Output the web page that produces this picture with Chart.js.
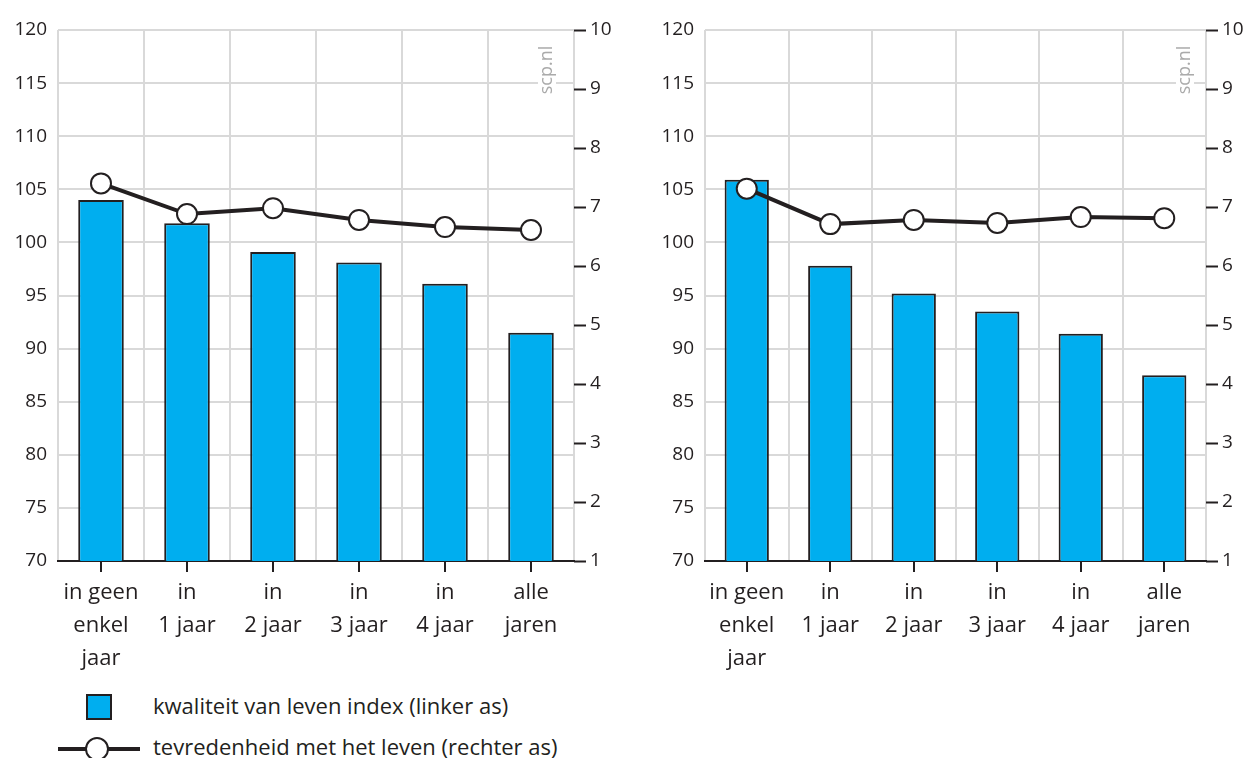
<!DOCTYPE html>
<html>
<head>
<meta charset="utf-8">
<script src="https://cdn.jsdelivr.net/npm/chart.js@4"></script>
<style>
  body { margin: 0; background: #fff; width: 1258px; height: 758px; overflow: hidden; position: relative; font-family: "Open Sans", sans-serif; color: #231f20; }
  .paneel { position: absolute; top: 0; height: 690px; }
  #paneel1 { left: 0; width: 620px; }
  #paneel2 { left: 620px; width: 638px; }
  .leg { position: absolute; left: 0; font-size: 22px; line-height: 30px; white-space: nowrap; }
  .leg span { position: absolute; left: 153px; top: -16px; }
  .blok { position: absolute; left: 86px; top: -12px; width: 22px; height: 22px; background: #00aeef; border: 2px solid #231f20; }
</style>
</head>
<body>
<div class="paneel" id="paneel1"><canvas id="grafiek1"></canvas></div>
<div class="paneel" id="paneel2"><canvas id="grafiek2"></canvas></div>

<div class="leg" style="top:706px"><div class="blok"></div><span>kwaliteit van leven index (linker as)</span></div>
<div class="leg" style="top:747px">
  <svg width="150" height="30" style="position:absolute;left:0;top:-13px">
    <line x1="58" y1="15" x2="140" y2="15" stroke="#231f20" stroke-width="4"/>
    <circle cx="97" cy="15" r="11" fill="#fff" stroke="#231f20" stroke-width="2"/>
  </svg>
  <span>tevredenheid met het leven (rechter as)</span>
</div>

<script>
// categorieen en waarden
const categorieen = [["in geen", "enkel", "jaar"], ["in", "1 jaar"], ["in", "2 jaar"], ["in", "3 jaar"], ["in", "4 jaar"], ["alle", "jaren"]];
const kwaliteitLinks = [104.0, 101.8, 99.1, 98.1, 96.1, 91.5];
const tevredenLinks = [7.40, 6.88, 6.98, 6.78, 6.66, 6.61];
const kwaliteitRechts = [105.9, 97.8, 95.2, 93.5, 91.4, 87.5];
const tevredenRechts = [7.31, 6.71, 6.78, 6.73, 6.83, 6.81];
const linkerAs = { min: 70, max: 120, stap: 5 };
const rechterAs = { min: 1, max: 10, stap: 1 };

const donker = "#231f20";
const grijs = "#d9d9d9";
const lettertype = "'Open Sans', sans-serif";

// watermerk rechtsboven in het plotvlak
const watermerk = {
    id: "watermerk",
    beforeDatasetsDraw(chart, args, opts) {
        let ctx = chart.ctx;
        let a = chart.chartArea;
        ctx.save();
        ctx.translate(a.right - opts.rechts, a.top + 40);
        ctx.rotate(-Math.PI / 2);
        ctx.font = "18px " + lettertype;
        let w = ctx.measureText("scp.nl").width;
        ctx.fillStyle = "#fff";
        ctx.fillRect(-w / 2 - 3, -9, w + 6, 18);
        ctx.fillStyle = "#aaaaaa";
        ctx.textAlign = "center";
        ctx.textBaseline = "middle";
        ctx.fillText("scp.nl", 0, 0);
        ctx.restore();
    }
};

// korte streepjes onder de x-as, midden onder elke categorie
const asStreepjes = {
    id: "asStreepjes",
    afterDraw(chart) {
        let ctx = chart.ctx;
        let x = chart.scales.x;
        let bodem = chart.chartArea.bottom;
        ctx.save();
        ctx.strokeStyle = donker;
        ctx.lineWidth = 2;
        ctx.beginPath();
        for (let i = 0; i < chart.data.labels.length; i++) {
            let px = Math.round(x.getPixelForValue(i));
            ctx.moveTo(px, bodem);
            ctx.lineTo(px, bodem + 11);
        }
        ctx.stroke();
        ctx.restore();
    }
};

function maakGrafiek(id, staven, lijn, breedteLinks, breedteRechts, wmRechts){
    return new Chart(document.getElementById(id), {
        type: "bar",
        data: {
            labels: categorieen,
            datasets: [
                {
                    type: "line",
                    label: "tevredenheid met het leven (rechter as)",
                    data: lijn,
                    yAxisID: "y1",
                    borderColor: donker,
                    borderWidth: 4,
                    pointRadius: 10,
                    pointBackgroundColor: "#fff",
                    pointBorderColor: donker,
                    pointBorderWidth: 2,
                    tension: 0,
                    order: 0
                },
                {
                    label: "kwaliteit van leven index (linker as)",
                    data: staven,
                    yAxisID: "y",
                    backgroundColor: "#00aeef",
                    borderColor: donker,
                    borderWidth: 2,
                    barPercentage: 0.53,
                    categoryPercentage: 1,
                    order: 1
                }
            ]
        },
        plugins: [watermerk, asStreepjes],
        options: {
            responsive: true,
            maintainAspectRatio: false,
            animation: false,
            layout: { padding: { top: 30, left: 0, right: 0, bottom: 0 } },
            plugins: {
                legend: { display: false },
                tooltip: { enabled: false },
                watermerk: { rechts: wmRechts }
            },
            scales: {
                x: {
                    offset: true,
                    grid: { offset: true, color: grijs, lineWidth: 2, drawTicks: false },
                    border: { display: true, color: donker, width: 2 },
                    ticks: { color: donker, padding: 15, maxRotation: 0, autoSkip: false,
                             font: { family: lettertype, size: 22, lineHeight: 1.5 } },
                    afterFit: function(s){ s.height = 690 - 561; }
                },
                y: {
                    position: "left",
                    min: linkerAs.min,
                    max: linkerAs.max,
                    grid: { color: grijs, lineWidth: 2, drawTicks: false },
                    border: { display: false },
                    ticks: { stepSize: linkerAs.stap, padding: 11, color: donker,
                             font: { family: lettertype, size: 19 } },
                    afterFit: function(s){ s.width = breedteLinks; }
                },
                y1: {
                    position: "right",
                    min: rechterAs.min,
                    max: rechterAs.max,
                    grid: { drawOnChartArea: false, tickLength: 12, tickColor: donker, tickWidth: 2 },
                    border: { display: false },
                    ticks: { stepSize: rechterAs.stap, padding: 4, color: donker,
                             font: { family: lettertype, size: 19 } },
                    afterFit: function(s){ s.width = breedteRechts; }
                }
            }
        }
    });
}

maakGrafiek("grafiek1", kwaliteitLinks, tevredenLinks, 58, 46, 27);
maakGrafiek("grafiek2", kwaliteitRechts, tevredenRechts, 85, 52, 21);
</script>
</body>
</html>
